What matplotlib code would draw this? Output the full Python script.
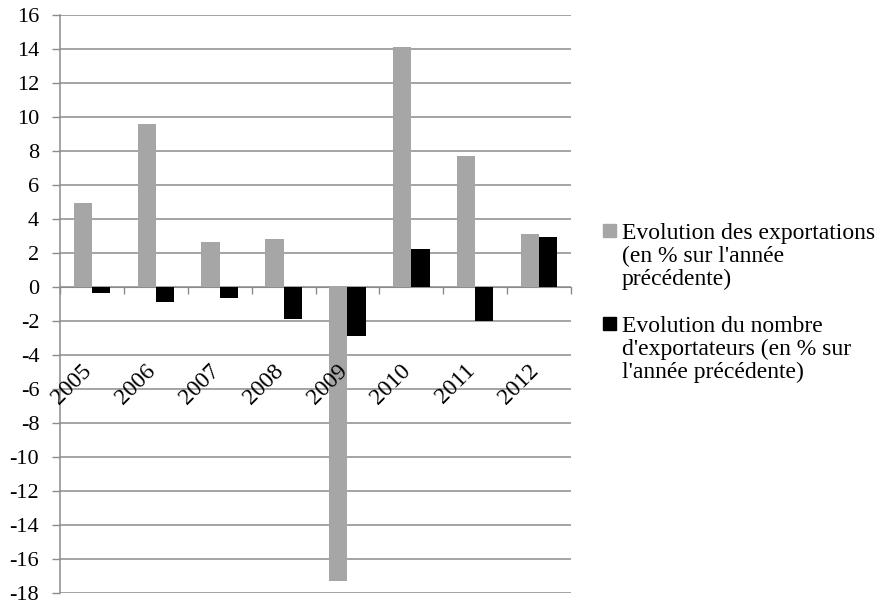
import matplotlib
matplotlib.use("Agg")
import matplotlib.pyplot as plt
from matplotlib.patches import Rectangle
import numpy as np

plt.rcParams['font.family'] = 'serif'
plt.rcParams['font.serif'] = ['Liberation Serif', 'DejaVu Serif']
plt.rcParams['font.size'] = 16
plt.rcParams['axes.unicode_minus'] = False

annees = ['2005', '2006', '2007', '2008', '2009', '2010', '2011', '2012']
exportations = [4.96, 9.6, 2.66, 2.82, -17.29, 14.14, 7.71, 3.12]
exportateurs = [-0.38, -0.87, -0.64, -1.91, -2.87, 2.22, -1.99, 2.92]

label_exp = "Evolution des exportations\n(en % sur l'année\nprécédente)"
label_nb = "Evolution du nombre\nd'exportateurs (en % sur\nl'année précédente)"

gris = '#A6A6A6'
grille = '#8C8C8C'

W, H = 892, 605
fig = plt.figure(figsize=(W / 100, H / 100), dpi=100)
ax = fig.add_axes([60 / W, 1 - 593 / H, 511 / W, 578 / H])

x = np.arange(len(annees))
w = 0.286
ax.bar(x - w / 2, exportations, w, color=gris, zorder=3)
ax.bar(x + w / 2, exportateurs, w, color='black', zorder=3)

ax.set_ylim(-18, 16)
ax.set_yticks(np.arange(-18, 17, 2))
ax.set_xlim(-0.5, len(annees) - 0.5)
ax.yaxis.grid(True, color=grille, linewidth=1.1, zorder=0)
ax.tick_params(axis='y', direction='out', length=6, width=1, color=grille, pad=9)

# axe des x au niveau de zéro, traits entre les catégories
ax.spines['bottom'].set_position(('data', 0))
ax.spines['bottom'].set_color(grille)
ax.spines['left'].set_color(grille)
ax.spines['left'].set_linewidth(1.1)
ax.spines['top'].set_visible(False)
ax.spines['right'].set_visible(False)
ax.set_xticks(np.arange(len(annees) + 1) - 0.5)
ax.set_xticklabels([])
ax.tick_params(axis='x', direction='out', length=5, width=1, color=grille)

# années inclinées, posées sous l'axe
for xi, an in zip(x, annees):
    ax.annotate(an, xy=(xi, 0), xytext=(-2.5, -58), textcoords='offset points',
                rotation=45, ha='right', va='center', rotation_mode='anchor',
                fontsize=17, zorder=5)

# légende à droite, carré aligné sur la première ligne
entrees = [(label_exp, gris, 238.5), (label_nb, 'black', 331.7)]
for texte, couleur, base in entrees:
    fig.add_artist(Rectangle((603 / W, 1 - (base - 1.5) / H), 13 / W, 13 / H,
                             transform=fig.transFigure, color=couleur))
    fig.text(621.5 / W, 1 - (base + 2 * 23.3) / H, texte, ha='left',
             va='baseline', fontsize=17, linespacing=1.12)

fig.savefig('out.png', dpi=100)
